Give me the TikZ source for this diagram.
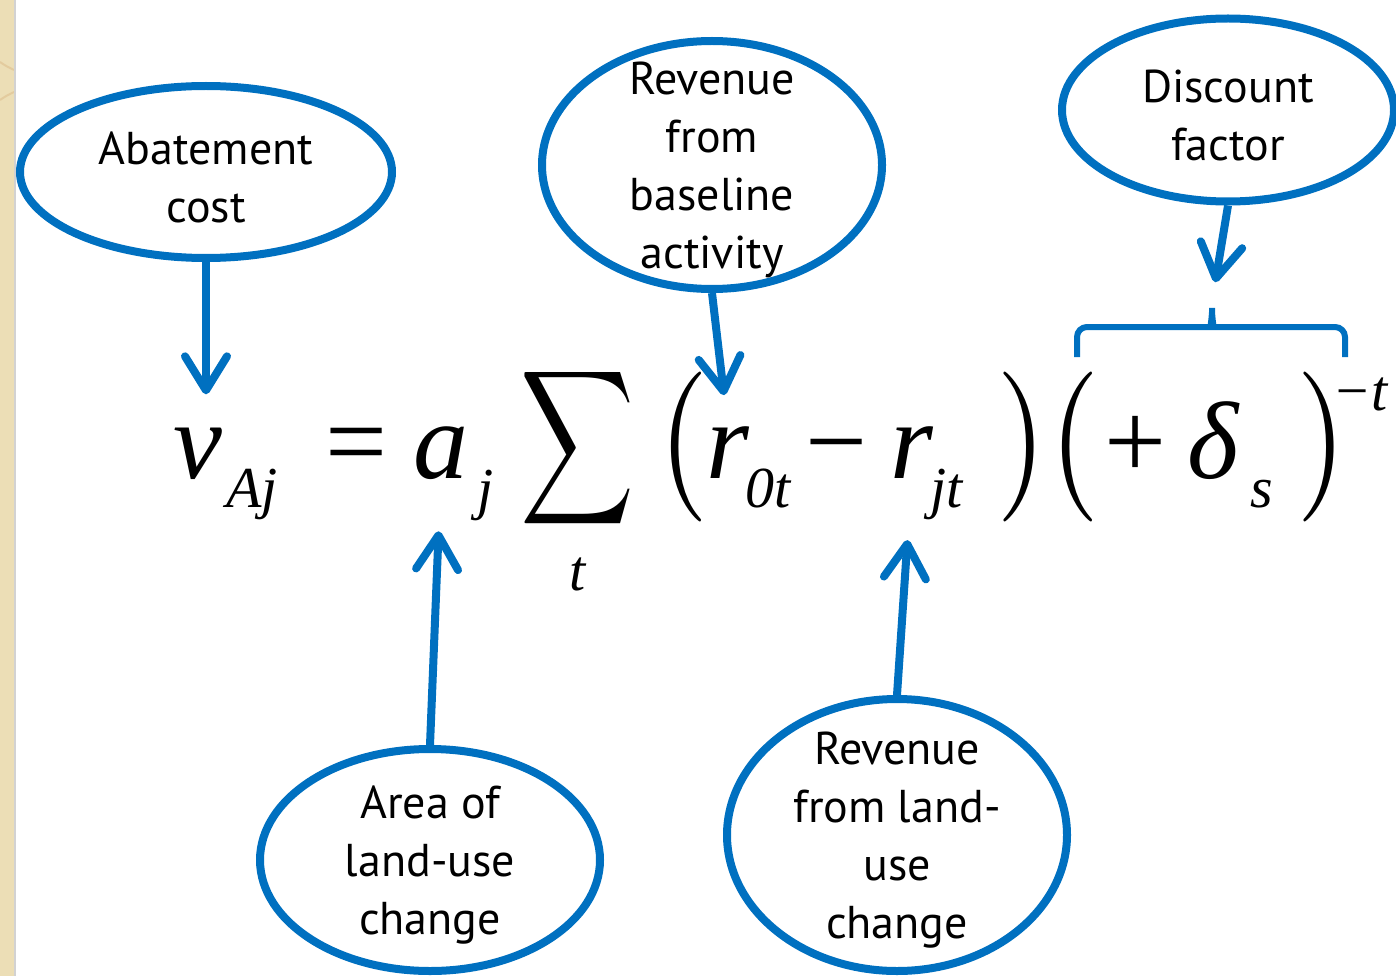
\documentclass[tikz,border=0pt]{standalone}
\usepackage{fontspec}
\usepackage{graphicx}
\usepackage{tikz}
\newfontfamily\blasenfont{PT Sans}
\newfontfamily\formelfont{Liberation Serif}
\definecolor{blasenblau}{RGB}{0,112,192}
\definecolor{sand}{RGB}{236,222,182}
\usetikzlibrary{arrows.meta, shapes.geometric}
\newcommand{\summenzeichen}{\scalebox{7.9}[10.8]{$\displaystyle\sum$}}
\newcommand{\klammer}[1]{\scalebox{13}[15]{$#1$}}

\begin{document}
\begin{tikzpicture}[x=1pt, y=-1pt,
			blase/.style={draw=blasenblau, line width=8pt, ellipse, inner sep=0pt},
			worte/.style={font=\blasenfont\fontsize{46}{58}\selectfont, align=center, inner sep=0pt, yshift=-5pt},
			zeiger/.style={draw=blasenblau, line width=8pt, -{Straight Barb[length=34pt, width=42pt, round]}},
			gr/.style={font=\formelfont\fontsize{110}{110}\selectfont\itshape, inner sep=0pt, anchor=base west},
			kl/.style={font=\formelfont\fontsize{58}{58}\selectfont\itshape, inner sep=0pt, anchor=base west},
			kla/.style={inner sep=0pt}]
			%Bildbereich
			\useasboundingbox (0,0) rectangle (1396,976);
			\fill[sand] (0,0) rectangle (14,976);
			\draw[sand!80!brown, line width=2pt] (0,62) .. controls (6,66) .. (14,70);
			\draw[sand!80!brown, line width=2pt] (0,100) .. controls (6,96) .. (14,92);
			\draw[gray!35, line width=2pt] (15,0) -- (15,976);
			% Formel setzen
			\node[gr] (v) at (173,478) {v};
			\node[kl] (vsub) at (226,507) {Aj};
			\node[gr, anchor=base, font=\formelfont\fontsize{110}{110}\selectfont] (gleich) at (357,478) {=};
			\node[gr] (a) at (413,478) {a};
			\node[kl] (asub) at (477,508) {j};
			\node[kla] (summe) at (578,448) {\summenzeichen};
			\node[kl, anchor=base] (sumt) at (578,590) {t};
			\node[kla] (lk1) at (684,447) {\klammer{(}};
			\node[gr] (r0) at (706,478) {r};
			\node[kl] (r0sub) at (745,507) {0t};
			\node[gr, anchor=base, font=\formelfont\fontsize{110}{110}\selectfont] (minus) at (837,478) {−};
			\node[gr] (rj) at (890,478) {r};
			\node[kl] (rjsub) at (930,507) {jt};
			\node[kla] (rk1) at (1022,447) {\klammer{)}};
			\node[kla] (lk2) at (1075,447) {\klammer{(}};
			\node[gr, anchor=base, font=\formelfont\fontsize{110}{110}\selectfont] (plus) at (1136,478) {+};
			\node[gr] (delta) at (1187,478) {δ};
			\node[kl] (dsub) at (1250,507) {s};
			\node[kla] (rk2) at (1322,447) {\klammer{)}};
			\node[kl] (hoch) at (1332,410) {−t};
			% Blasen zeichnen
			\node[blase, minimum width=372pt, minimum height=172pt] (abate) at (206,172) {};
			\node[worte] at (abate) {Abatement\\cost};
			\node[blase, minimum width=340pt, minimum height=248pt] (rev0) at (712,165) {};
			\node[worte] at (rev0) {Revenue\\from\\baseline\\activity};
			\node[blase, minimum width=332pt, minimum height=183pt] (disc) at (1228,110) {};
			\node[worte] at (disc) {Discount\\factor};
			\node[blase, minimum width=340pt, minimum height=222pt] (area) at (430,860) {};
			\node[worte] at (area) {Area of\\land-use\\change};
			\node[blase, minimum width=340pt, minimum height=272pt] (revj) at (897,835) {};
			\node[worte] at (revj) {Revenue\\from land-\\use\\change};
			% Klammer ueber dem Abzinsungsfaktor
			\coordinate (klspitze) at (1212,302);
			\draw[blasenblau, line width=6pt, rounded corners=10pt] (1077,357) |- (1200,327) to[out=0, in=-90] (klspitze) to[out=-90, in=180] (1224,327) -| (1345,357);
			% Pfeile
			\draw[zeiger, shorten >=33pt] (abate.south) -- (abate.south |- v.north);
			\draw[zeiger, shorten >=31pt] (rev0.south) -- (r0.north);
			\draw[zeiger, shorten >=20pt] (disc.south) -- (klspitze);
			\draw[zeiger, shorten >=52pt] (area.north) -- (a.south);
			\draw[zeiger, shorten >=62pt] (revj.north) -- (rj.south);
\end{tikzpicture}
\end{document}
